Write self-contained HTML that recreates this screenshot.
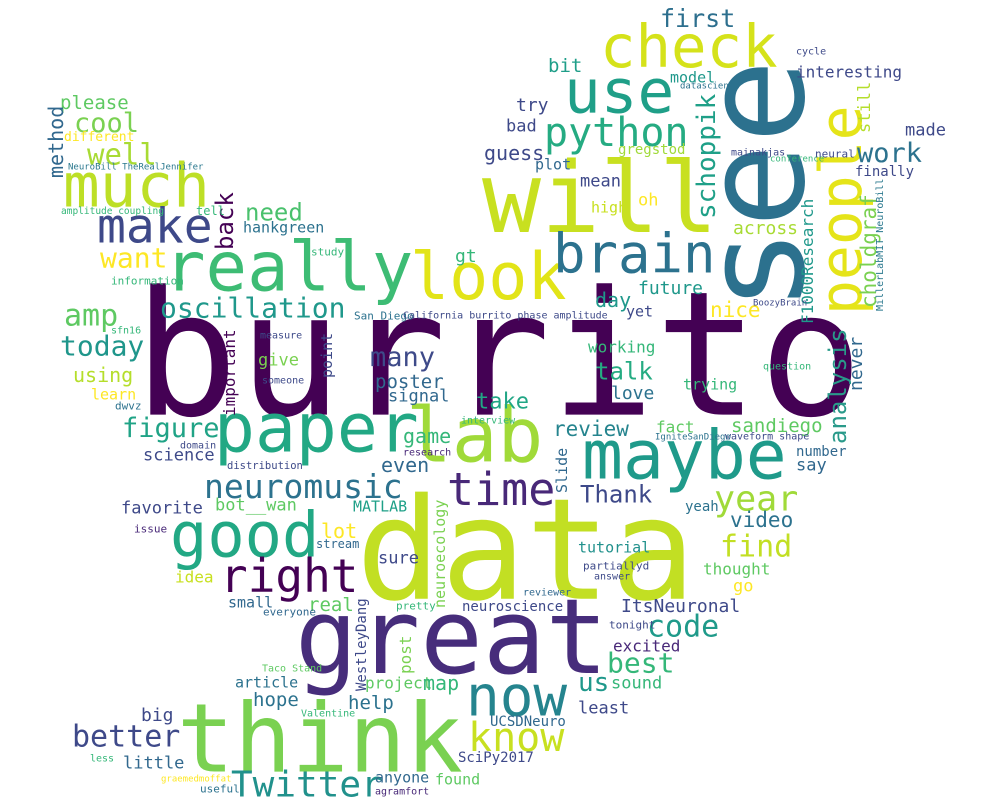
<!DOCTYPE html>
<html><head><meta charset="utf-8">
<style>
html,body{margin:0;padding:0;background:#fff;}
#cloud{position:relative;width:1000px;height:808px;overflow:hidden;background:#fff;font-family:"DejaVu Sans Mono","Liberation Mono",monospace;}
.w{position:absolute;white-space:nowrap;line-height:1;transform:translateY(-0.846em);}
.v{position:absolute;white-space:nowrap;line-height:1;transform-origin:0 0;transform:rotate(-90deg);}
</style></head><body>
<div id="cloud">
<div class="w" style="left:134px;top:415px;font-size:173px;color:#440154">burrito</div>
<div class="w" style="left:356px;top:600px;font-size:141px;color:#c2df23">data</div>
<div class="w" style="left:295px;top:673px;font-size:104px;color:#472d7b">great</div>
<div class="w" style="left:177px;top:773px;font-size:95px;color:#7ad151">think</div>
<div class="w" style="left:482px;top:233px;font-size:98px;color:#c8e020">will</div>
<div class="v" style="left:686px;top:312px;font-size:140px;color:#2c718e">see</div>
<div class="v" style="left:812px;top:315px;font-size:58px;color:#e5e419">people</div>
<div class="v" style="left:826px;top:444px;font-size:24px;color:#2a9a8a">analysis</div>
<div class="w" style="left:214px;top:453px;font-size:68px;color:#22a884">paper</div>
<div class="w" style="left:406px;top:462px;font-size:76px;color:#a0da39">lab</div>
<div class="w" style="left:582px;top:480px;font-size:68px;color:#1f9a8a">maybe</div>
<div class="w" style="left:170px;top:557px;font-size:62px;color:#22a884">good</div>
<div class="w" style="left:220px;top:592px;font-size:46px;color:#440154">right</div>
<div class="w" style="left:164px;top:292px;font-size:69px;color:#3dbc74">really</div>
<div class="w" style="left:63px;top:207px;font-size:61px;color:#bddf26">much</div>
<div class="w" style="left:97px;top:243px;font-size:48px;color:#3e4989">make</div>
<div class="w" style="left:160px;top:318px;font-size:28px;color:#1f988b">oscillation</div>
<div class="w" style="left:410px;top:300px;font-size:65px;color:#e2e418">look</div>
<div class="w" style="left:553px;top:273px;font-size:54px;color:#2c728e">brain</div>
<div class="w" style="left:564px;top:113px;font-size:61px;color:#1f9f88">use</div>
<div class="w" style="left:600px;top:67px;font-size:59px;color:#d5e21a">check</div>
<div class="w" style="left:544px;top:147px;font-size:40px;color:#25ab82">python</div>
<div class="w" style="left:660px;top:27px;font-size:25px;color:#2d6f8e">first</div>
<div class="w" style="left:447px;top:505px;font-size:45px;color:#482878">time</div>
<div class="w" style="left:204px;top:498px;font-size:33px;color:#2c728e">neuromusic</div>
<div class="w" style="left:466px;top:717px;font-size:56px;color:#25848e">now</div>
<div class="w" style="left:468px;top:752px;font-size:40px;color:#c8e020">know</div>
<div class="w" style="left:231px;top:798px;font-size:36px;color:#21918c">Twitter</div>
<div class="w" style="left:72px;top:748px;font-size:30px;color:#3e4989">better</div>
<div class="w" style="left:714px;top:512px;font-size:35px;color:#a0da39">year</div>
<div class="w" style="left:720px;top:558px;font-size:30px;color:#c2df23">find</div>
<div class="w" style="left:647px;top:638px;font-size:30px;color:#1f9a8a">code</div>
<div class="w" style="left:607px;top:673px;font-size:28px;color:#35b779">best</div>
<div class="w" style="left:578px;top:692px;font-size:26px;color:#1f988b">us</div>
<div class="w" style="left:611px;top:690px;font-size:17px;color:#35b779">sound</div>
<div class="w" style="left:578px;top:715px;font-size:17px;color:#3e4989">least</div>
<div class="w" style="left:613px;top:652px;font-size:16px;color:#482878">excited</div>
<div class="w" style="left:621px;top:613px;font-size:18px;color:#3e4989">ItsNeuronal</div>
<div class="w" style="left:580px;top:503px;font-size:24px;color:#3e4989">Thank</div>
<div class="w" style="left:685px;top:512px;font-size:14px;color:#2c728e">yeah</div>
<div class="w" style="left:730px;top:528px;font-size:21px;color:#2c728e">video</div>
<div class="w" style="left:703px;top:575px;font-size:16px;color:#5ec962">thought</div>
<div class="w" style="left:733px;top:593px;font-size:17px;color:#fde725">go</div>
<div class="w" style="left:578px;top:553px;font-size:15px;color:#21918c">tutorial</div>
<div class="v" style="left:555px;top:493px;font-size:15px;color:#31688e">Slide</div>
<div class="w" style="left:731px;top:433px;font-size:19px;color:#5ec962">sandiego</div>
<div class="w" style="left:553px;top:437px;font-size:21px;color:#25848e">review</div>
<div class="w" style="left:656px;top:433px;font-size:16px;color:#5ec962">fact</div>
<div class="w" style="left:476px;top:410px;font-size:22px;color:#21a685">take</div>
<div class="w" style="left:595px;top:380px;font-size:24px;color:#25ab82">talk</div>
<div class="w" style="left:588px;top:353px;font-size:16px;color:#35b779">working</div>
<div class="w" style="left:611px;top:400px;font-size:18px;color:#2c728e">love</div>
<div class="w" style="left:683px;top:390px;font-size:15px;color:#35b779">trying</div>
<div class="w" style="left:638px;top:295px;font-size:18px;color:#1f988b">future</div>
<div class="w" style="left:595px;top:307px;font-size:20px;color:#1f988b">day</div>
<div class="w" style="left:626px;top:317px;font-size:15px;color:#3e4989">yet</div>
<div class="w" style="left:710px;top:318px;font-size:21px;color:#fde725">nice</div>
<div class="w" style="left:733px;top:235px;font-size:18px;color:#a8db34">across</div>
<div class="w" style="left:796px;top:78px;font-size:16px;color:#3e4989">interesting</div>
<div class="w" style="left:548px;top:73px;font-size:19px;color:#1f9e89">bit</div>
<div class="w" style="left:670px;top:83px;font-size:15px;color:#1f988b">model</div>
<div class="w" style="left:516px;top:112px;font-size:18px;color:#3e4989">try</div>
<div class="w" style="left:506px;top:133px;font-size:17px;color:#3e4989">bad</div>
<div class="w" style="left:484px;top:160px;font-size:20px;color:#3e4989">guess</div>
<div class="w" style="left:535px;top:170px;font-size:15px;color:#31688e">plot</div>
<div class="w" style="left:618px;top:155px;font-size:14px;color:#a0da39">gregstod</div>
<div class="v" style="left:694px;top:219px;font-size:26px;color:#1fa088">schoppik</div>
<div class="w" style="left:580px;top:188px;font-size:17px;color:#3e4989">mean</div>
<div class="w" style="left:591px;top:213px;font-size:15px;color:#c8e020">high</div>
<div class="w" style="left:638px;top:207px;font-size:17px;color:#fde725">oh</div>
<div class="w" style="left:857px;top:163px;font-size:27px;color:#2c728e">work</div>
<div class="w" style="left:905px;top:137px;font-size:17px;color:#3e4989">made</div>
<div class="w" style="left:855px;top:177px;font-size:14px;color:#3e4989">finally</div>
<div class="v" style="left:857px;top:133px;font-size:17px;color:#b5de2b">still</div>
<div class="v" style="left:859px;top:308px;font-size:21px;color:#7ad151">choldgraf</div>
<div class="v" style="left:800px;top:324px;font-size:16px;color:#1f988b">F1000Research</div>
<div class="v" style="left:876px;top:311px;font-size:10px;color:#2a788e">MillerLabMIT NeuroBill</div>
<div class="v" style="left:848px;top:391px;font-size:18px;color:#31688e">never</div>
<div class="w" style="left:796px;top:457px;font-size:14px;color:#31688e">number</div>
<div class="w" style="left:796px;top:472px;font-size:17px;color:#31688e">say</div>
<div class="w" style="left:462px;top:612px;font-size:14px;color:#3e4989">neuroscience</div>
<div class="w" style="left:490px;top:727px;font-size:14px;color:#31688e">UCSDNeuro</div>
<div class="w" style="left:458px;top:763px;font-size:14px;color:#3e4989">SciPy2017</div>
<div class="v" style="left:433px;top:608px;font-size:15px;color:#7ad151">neuroecology</div>
<div class="v" style="left:355px;top:691px;font-size:14px;color:#3e4989">WestleyDang</div>
<div class="v" style="left:398px;top:674px;font-size:16px;color:#7ad151">post</div>
<div class="w" style="left:121px;top:515px;font-size:17px;color:#3e4989">favorite</div>
<div class="w" style="left:215px;top:512px;font-size:17px;color:#5ec962">bot__wan</div>
<div class="w" style="left:353px;top:512px;font-size:15px;color:#1fa088">MATLAB</div>
<div class="w" style="left:321px;top:538px;font-size:20px;color:#fde725">lot</div>
<div class="w" style="left:378px;top:565px;font-size:17px;color:#3e4989">sure</div>
<div class="w" style="left:175px;top:583px;font-size:16px;color:#c8e020">idea</div>
<div class="w" style="left:228px;top:608px;font-size:15px;color:#31688e">small</div>
<div class="w" style="left:308px;top:612px;font-size:19px;color:#5ec962">real</div>
<div class="w" style="left:235px;top:688px;font-size:15px;color:#2c728e">article</div>
<div class="w" style="left:253px;top:707px;font-size:19px;color:#2c728e">hope</div>
<div class="w" style="left:141px;top:722px;font-size:18px;color:#3e4989">big</div>
<div class="w" style="left:123px;top:770px;font-size:17px;color:#31688e">little</div>
<div class="w" style="left:375px;top:783px;font-size:15px;color:#31688e">anyone</div>
<div class="w" style="left:435px;top:785px;font-size:15px;color:#5ec962">found</div>
<div class="w" style="left:348px;top:710px;font-size:19px;color:#2c728e">help</div>
<div class="w" style="left:365px;top:689px;font-size:16px;color:#5ec962">project</div>
<div class="w" style="left:423px;top:690px;font-size:20px;color:#35b779">map</div>
<div class="w" style="left:161px;top:783px;font-size:9px;color:#fde725">graemedmoffat</div>
<div class="w" style="left:60px;top:110px;font-size:19px;color:#5ec962">please</div>
<div class="w" style="left:74px;top:133px;font-size:27px;color:#7ad151">cool</div>
<div class="v" style="left:46px;top:178px;font-size:20px;color:#31688e">method</div>
<div class="w" style="left:64px;top:142px;font-size:13px;color:#fde725">different</div>
<div class="w" style="left:87px;top:165px;font-size:29px;color:#a8db34">well</div>
<div class="w" style="left:68px;top:171px;font-size:9px;color:#2a788e">NeuroBill TheRealJennifer</div>
<div class="w" style="left:61px;top:215px;font-size:9.5px;color:#35b779">amplitude coupling</div>
<div class="v" style="left:213px;top:250px;font-size:24px;color:#440154">back</div>
<div class="w" style="left:245px;top:221px;font-size:24px;color:#4ac16d">need</div>
<div class="w" style="left:243px;top:233px;font-size:15px;color:#2c728e">hankgreen</div>
<div class="w" style="left:100px;top:268px;font-size:28px;color:#fde725">want</div>
<div class="w" style="left:64px;top:327px;font-size:30px;color:#5ec962">amp</div>
<div class="w" style="left:60px;top:356px;font-size:28px;color:#1f968b">today</div>
<div class="w" style="left:73px;top:382px;font-size:20px;color:#b5de2b">using</div>
<div class="w" style="left:91px;top:400px;font-size:15px;color:#fde725">learn</div>
<div class="w" style="left:122px;top:438px;font-size:27px;color:#20a386">figure</div>
<div class="w" style="left:143px;top:462px;font-size:17px;color:#3e4a89">science</div>
<div class="w" style="left:455px;top:263px;font-size:18px;color:#35b779">gt</div>
<div class="w" style="left:370px;top:367px;font-size:27px;color:#3e4a89">many</div>
<div class="w" style="left:375px;top:389px;font-size:19px;color:#31688e">poster</div>
<div class="w" style="left:388px;top:403px;font-size:17px;color:#31688e">signal</div>
<div class="v" style="left:222px;top:416px;font-size:16px;color:#440154">important</div>
<div class="v" style="left:320px;top:378px;font-size:15px;color:#3e4a89">point</div>
<div class="w" style="left:258px;top:367px;font-size:17px;color:#7ad151">give</div>
<div class="w" style="left:403px;top:443px;font-size:20px;color:#35b779">game</div>
<div class="w" style="left:381px;top:472px;font-size:20px;color:#31688e">even</div>
<div class="w" style="left:227px;top:470px;font-size:10.5px;color:#3e4a89">distribution</div>
<div class="w" style="left:354px;top:320px;font-size:11px;color:#2c728e">San Diego</div>
<div class="w" style="left:403px;top:320px;font-size:10px;color:#3e4a89">California burrito phase amplitude</div>
<div class="w" style="left:115px;top:410px;font-size:11px;color:#2c728e">dwvz</div>
<div class="w" style="left:111px;top:335px;font-size:10px;color:#35b779">sfn16</div>
<div class="w" style="left:111px;top:285px;font-size:11px;color:#35b779">information</div>
<div class="w" style="left:260px;top:340px;font-size:10px;color:#3e4a89">measure</div>
<div class="w" style="left:262px;top:385px;font-size:10px;color:#3e4a89">someone</div>
<div class="w" style="left:196px;top:215px;font-size:12px;color:#35b779">tell</div>
<div class="w" style="left:311px;top:256px;font-size:11px;color:#35b779">study</div>
<div class="w" style="left:180px;top:450px;font-size:10px;color:#3e4a89">domain</div>
<div class="w" style="left:461px;top:425px;font-size:10px;color:#35b779">interview</div>
<div class="w" style="left:403px;top:457px;font-size:10px;color:#482878">research</div>
<div class="w" style="left:316px;top:548px;font-size:12px;color:#31688e">stream</div>
<div class="w" style="left:263px;top:616px;font-size:11px;color:#31688e">everyone</div>
<div class="w" style="left:134px;top:533px;font-size:11px;color:#482878">issue</div>
<div class="w" style="left:396px;top:610px;font-size:11px;color:#35b779">pretty</div>
<div class="w" style="left:301px;top:718px;font-size:10px;color:#35b779">Valentine</div>
<div class="w" style="left:262px;top:673px;font-size:10px;color:#5ec962">Taco Stand</div>
<div class="w" style="left:200px;top:793px;font-size:11px;color:#2c728e">useful</div>
<div class="w" style="left:90px;top:763px;font-size:10px;color:#35b779">less</div>
<div class="w" style="left:375px;top:796px;font-size:10px;color:#482878">agramfort</div>
<div class="w" style="left:523px;top:597px;font-size:10px;color:#31688e">reviewer</div>
<div class="w" style="left:583px;top:570px;font-size:11px;color:#3e4a89">partiallyd</div>
<div class="w" style="left:594px;top:581px;font-size:10px;color:#3e4a89">answer</div>
<div class="w" style="left:609px;top:629px;font-size:11px;color:#3e4a89">tonight</div>
<div class="w" style="left:725px;top:441px;font-size:10px;color:#3e4a89">waveform shape</div>
<div class="w" style="left:655px;top:441px;font-size:9px;color:#2c728e">IgniteSanDiego</div>
<div class="w" style="left:770px;top:163px;font-size:9px;color:#35b779">conference</div>
<div class="w" style="left:815px;top:158px;font-size:11px;color:#3e4a89">neural</div>
<div class="w" style="left:731px;top:157px;font-size:10px;color:#3e4a89">mainakjas</div>
<div class="w" style="left:763px;top:371px;font-size:10px;color:#35b779">question</div>
<div class="w" style="left:753px;top:307px;font-size:9px;color:#3e4a89">BoozyBrain</div>
<div class="w" style="left:680px;top:90px;font-size:9px;color:#2c728e">datascience</div>
<div class="w" style="left:796px;top:56px;font-size:10px;color:#3e4a89">cycle</div>
</div>
</body></html>
